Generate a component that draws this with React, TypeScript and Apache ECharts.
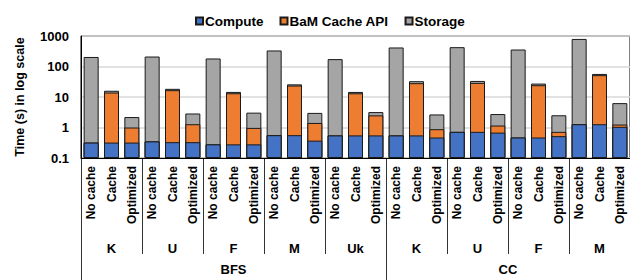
import React, { useEffect, useRef } from "react";
import * as echarts from "echarts";

const variants = ["No cache", "Cache", "Optimized"];
const groups = ["K", "U", "F", "M", "Uk", "K", "U", "F", "M"];
const algorithms = ["BFS", "CC"];
const groupsPerAlgorithm = [5, 4];
const seriesNames = ["Compute", "BaM Cache API", "Storage"];
const seriesColors = ["#4472C4", "#ED7D31", "#A5A5A5"];

// segment values (seconds), 27 bars: per group No cache, Cache, Optimized
const compute = [
  0.32, 0.32, 0.32, 0.35, 0.33, 0.33, 0.28, 0.28, 0.28, 0.56, 0.56, 0.37, 0.55, 0.55, 0.55,
  0.55, 0.55, 0.47, 0.72, 0.72, 0.68, 0.47, 0.47, 0.52, 1.28, 1.28, 1.05,
];
const cacheApi = [
  0, 13.7, 0.68, 0, 16.4, 0.95, 0, 13.0, 0.69, 0, 23.2, 1.04, 0, 12.7, 1.95,
  0, 27.9, 0.41, 0, 28.3, 0.48, 0, 23.9, 0.2, 0, 50.7, 0.2,
];
const storage = [
  205, 2, 1.2, 212, 1.8, 1.6, 183, 1.4, 2.1, 335, 2.2, 1.6, 174, 1.4, 0.7,
  420, 4.6, 1.8, 430, 4.6, 1.6, 360, 3.2, 1.8, 800, 5, 5.05,
];
const yMin = 0.1;
const yMax = 1000;

const FONT = '"Liberation Sans", Arial, sans-serif';

export default function App() {
  const ref = useRef<HTMLDivElement>(null);
  useEffect(() => {
    if (!ref.current) return;
    const chart = echarts.init(ref.current, null, { renderer: "svg" });
    const xKeys: string[] = [];
    groups.forEach((g, gi) => variants.forEach((v) => xKeys.push(`${gi}|${g}|${v}`)));
    const segs = [compute, cacheApi, storage];
    // cumulative tops for overlapping bars
    const cum = segs.map((_, si) =>
      compute.map((__, i) => {
        let s = 0;
        for (let k = 0; k <= si; k++) s += segs[k][i];
        return +s.toFixed(4);
      })
    );
    const series = [2, 1, 0].map((si) => ({
      name: seriesNames[si],
      type: "bar",
      data: cum[si],
      barWidth: 15,
      barGap: "-100%",
      itemStyle: { color: seriesColors[si], borderColor: "#1a1a1a", borderWidth: 1 },
      z: 2 + (2 - si),
    }));
    chart.setOption({
      animation: false,
      textStyle: { fontFamily: FONT },
      legend: {
        data: seriesNames,
        top: 9,
        left: 190,
        icon: "rect",
        itemWidth: 7,
        itemHeight: 7,
        itemGap: 16,
        textStyle: { fontFamily: FONT, fontWeight: "bold", fontSize: 13.5, color: "#000", padding: [0, 0, 0, -3] },
      },
      grid: {
        left: 81,
        top: 36,
        width: 552,
        height: 122,
        show: true,
        borderColor: "#000",
        borderWidth: 1,
        backgroundColor: "transparent",
      },
      xAxis: {
        type: "category",
        data: xKeys,
        axisLine: { lineStyle: { color: "#000", width: 1 } },
        axisTick: { show: false },
        axisLabel: {
          interval: 0,
          rotate: 90,
          margin: 8,
          fontFamily: FONT,
          fontWeight: "bold",
          fontSize: 12,
          color: "#000",
          formatter: (v: string) => v.split("|")[2],
        },
      },
      yAxis: {
        type: "log",
        logBase: 10,
        min: yMin,
        max: yMax,
        startValue: yMin,
        name: "Time (s) in log scale",
        nameLocation: "middle",
        nameGap: 55,
        nameTextStyle: { fontFamily: FONT, fontWeight: "bold", fontSize: 12.5, color: "#000" },
        axisLine: { show: true, lineStyle: { color: "#000" } },
        axisTick: { show: false },
        axisLabel: {
          margin: 12,
          fontFamily: FONT,
          fontWeight: "bold",
          fontSize: 13,
          color: "#000",
          formatter: (v: number) => String(v),
        },
        splitLine: { lineStyle: { color: "#d9d9d9", width: 1.5 } },
      },
      series,
    });

    const px = (i: number) => chart.convertToPixel({ xAxisIndex: 0 }, i) as number;
    const band = px(1) - px(0);
    const edge = (i: number) => px(i) - band / 2;
    const y0 = chart.convertToPixel({ yAxisIndex: 0 }, yMin) as number;
    const graphics: any[] = [];
    const algoStarts = new Set<number>();
    let acc = 0;
    groupsPerAlgorithm.forEach((n, ai) => {
      algoStarts.add(acc);
      const a = edge(acc * 3);
      const b = edge((acc + n) * 3);
      graphics.push({
        type: "text",
        x: (a + b) / 2,
        y: 269,
        style: {
          text: algorithms[ai],
          font: `bold 13px ${FONT}`,
          fill: "#000",
          align: "center",
          verticalAlign: "middle",
          textAlign: "center",
          textVerticalAlign: "middle",
        },
      });
      acc += n;
    });
    algoStarts.add(groups.length);
    for (let g = 0; g <= groups.length; g++) {
      const x = Math.round(edge(g * 3)) + 0.5;
      graphics.push({
        type: "line",
        shape: { x1: x, y1: y0, x2: x, y2: algoStarts.has(g) ? 282 : 254 },
        style: { stroke: "#333", lineWidth: 1 },
      });
      if (g < groups.length) {
        graphics.push({
          type: "text",
          x: (edge(g * 3) + edge(g * 3 + 3)) / 2,
          y: 248,
          style: {
            text: groups[g],
            font: `bold 13px ${FONT}`,
            fill: "#000",
            align: "center",
            verticalAlign: "middle",
            textAlign: "center",
            textVerticalAlign: "middle",
          },
        });
      }
    }
    chart.setOption({ graphic: graphics });
    return () => chart.dispose();
  }, []);
  return (
    <div
      ref={ref}
      style={{ position: "fixed", left: 0, top: 0, width: 630, height: 280, background: "#fff" }}
    />
  );
}
